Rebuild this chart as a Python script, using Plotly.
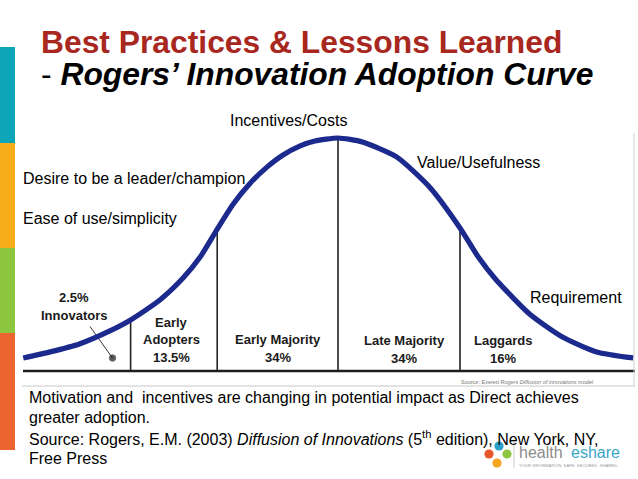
import plotly.graph_objects as go

W, H = 638, 479

# ---- data ----
# adoption curve: x in standard deviations from the mean, y = relative height (peak = 100)
curve_x = [-2.58, -2.36, -2.12, -1.87, -1.70, -1.46, -1.27, -1.13, -0.99, -0.86, -0.72, -0.58,
           -0.46, -0.31, -0.19, 0.00, 0.20, 0.48, 0.75, 1.00, 1.15, 1.29, 1.57, 1.84, 2.12, 2.42]
curve_y = [5.6, 8.2, 11.6, 17.2, 21.9, 30.5, 39.9, 48.9, 60.9, 71.6, 80.6, 87.6,
           92.4, 96.6, 98.7, 100.0, 98.3, 91.9, 79.0, 61.4, 48.9, 39.5, 24.5, 14.6, 8.2, 5.6]

# segment boundaries (sd) and the height where each line meets the curve
boundary_x = [-1.70, -0.99, 0.00, 1.00]
boundary_top = [22.0, 60.9, 100.0, 61.4]

segment_names = ["Innovators", "Early Adopters", "Early Majority", "Late Majority", "Laggards"]
segment_shares = ["2.5%", "13.5%", "34%", "34%", "16%"]

drivers = ["Incentives/Costs", "Value/Usefulness", "Desire to be a leader/champion",
           "Ease of use/simplicity", "Requirement"]

note_lines = [
    "Motivation and&nbsp; incentives are changing in potential impact as Direct achieves",
    "greater adoption.",
    "Source: Rogers, E.M. (2003) <i>Diffusion of Innovations</i> (5<sup>th</sup> edition), New York, NY,",
    "Free Press",
]

# ---- pixel helpers (layout only) ----
X0, SD = 338.0, 122.0
Y0, PK = 371.0, 233.0
def dx(px):  # pixel x -> data x
    return (px - X0) / SD
def dy(py):  # pixel y -> data y
    return (Y0 - py) / PK * 100.0
def pxp(px):
    return px / W
def pyp(py):
    return 1 - py / H

fig = go.Figure()

# baseline
fig.add_trace(go.Scatter(x=[dx(23), dx(635)], y=[0, 0], mode="lines",
                         line=dict(color="#1e1e1e", width=2.5), hoverinfo="skip"))

# boundary lines
bx, by = [], []
for b, t in zip(boundary_x, boundary_top):
    bx += [b, b, None]
    by += [0, t, None]
fig.add_trace(go.Scatter(x=bx, y=by, mode="lines",
                         line=dict(color="#222222", width=1.6), hoverinfo="skip"))

# innovators pointer
fig.add_trace(go.Scatter(x=[dx(90), dx(112.5)], y=[dy(326.5), dy(358)], mode="lines+markers",
                         line=dict(color="#333333", width=1),
                         marker=dict(size=[0, 6.5], color="#111111"), hoverinfo="skip"))

# curve
fig.add_trace(go.Scatter(x=curve_x, y=curve_y, mode="lines",
                         line=dict(color="#1c2a8e", width=5.2, shape="spline", smoothing=0.6),
                         hoverinfo="skip"))

shapes = []
# left colour strip
for y0, y1, c in [(47, 143, "#0ea5b9"), (143, 248, "#f8ae1a"), (248, 333, "#8dc63f"), (333, 450, "#ec6531")]:
    shapes.append(dict(type="rect", xref="paper", yref="paper", x0=0, x1=pxp(15),
                       y0=pyp(y1), y1=pyp(y0), fillcolor=c, line=dict(width=0), layer="below"))
# light frame of the embedded picture
shapes.append(dict(type="line", xref="paper", yref="paper", x0=pxp(22), x1=pxp(635),
                   y0=pyp(386), y1=pyp(386), line=dict(color="#c8c8c8", width=1)))
shapes.append(dict(type="line", xref="paper", yref="paper", x0=pxp(634), x1=pxp(634),
                   y0=pyp(133), y1=pyp(386), line=dict(color="#d0d0d0", width=1)))
# logo petals
for cx, cy, c in [(499, 446, "#2aa3cc"), (489, 454, "#e8562c"), (507, 454, "#8cc63f"), (497, 463, "#f6a623")]:
    shapes.append(dict(type="circle", xref="paper", yref="paper",
                       x0=pxp(cx - 4.6), x1=pxp(cx + 4.6), y0=pyp(cy + 4.6), y1=pyp(cy - 4.6),
                       fillcolor=c, line=dict(width=0)))
shapes.append(dict(type="line", xref="paper", yref="paper", x0=pxp(514), x1=pxp(514),
                   y0=pyp(468), y1=pyp(440), line=dict(color="#cccccc", width=1)))

ann = []
def text(s, px, py, size, color="#000000", xanchor="left", yanchor="middle",
         family="Liberation Sans, Arial, sans-serif", align="left"):
    ann.append(dict(text=s, x=pxp(px), y=pyp(py), xref="paper", yref="paper", showarrow=False,
                    xanchor=xanchor, yanchor=yanchor, align=align,
                    font=dict(size=size, color=color, family=family)))

# titles
text("<b>Best Practices &amp; Lessons Learned</b>", 39, 42, 31.8, "#a8281f")
text("- <b><i>Rogers’ Innovation Adoption Curve</i></b>", 39, 74.5, 31.8, "#000000")

# drivers
text(drivers[0], 288, 121, 16, xanchor="center")
text(drivers[1], 415, 163, 16)
text(drivers[2], 21, 178.5, 16)
text(drivers[3], 21, 218, 16)
text(drivers[4], 528, 297, 16)

# segment labels
bold_font = "Liberation Sans, Arial, sans-serif"
label_pos = [
    (74, [297.7, 315], "above"),
    (171.5, [322.3, 339.3, 357.7], "below"),
    (278.3, [339.3, 357.7], "below"),
    (404, [340, 358.3], "below"),
    (503.3, [340, 358.3], "below"),
]
for name, share, (cx, ys, mode) in zip(segment_names, segment_shares, label_pos):
    if mode == "above":
        lines = [share, name]
    elif name == "Early Adopters":
        lines = ["Early", "Adopters", share]
    else:
        lines = [name, share]
    for ln, yy in zip(lines, ys):
        text("<b>" + ln + "</b>", cx, yy, 13, "#1a1a1a", xanchor="center", family=bold_font)

# tiny source in the picture
text("Source: Everett Rogers <i>Diffusion of innovations model</i>", 527, 381.5, 5.5, "#777777", xanchor="center")

# bottom note, one annotation per line
for ln, yy in zip(note_lines, [397, 417.5, 438, 458.5]):
    text(ln, 27, yy, 16, "#000000")

# logo text
text("health", 517, 452, 16, "#8c8c8c")
text("eshare", 569, 452, 16, "#3aa6c8")
text("YOUR INFORMATION. SAFE. SECURED. SHARED.", 568, 465.5, 4.2, "#999999", xanchor="center")

fig.update_layout(
    width=W, height=H, margin=dict(l=0, r=0, t=0, b=0),
    paper_bgcolor="white", plot_bgcolor="white", showlegend=False,
    xaxis=dict(range=[dx(0), dx(W)], visible=False, fixedrange=True),
    yaxis=dict(range=[dy(H), dy(0)], visible=False, fixedrange=True),
    shapes=shapes, annotations=ann,
)

fig.write_html("out.html", config={"displayModeBar": False},
               post_script="document.body.style.margin='0';document.body.style.overflow='hidden';")
